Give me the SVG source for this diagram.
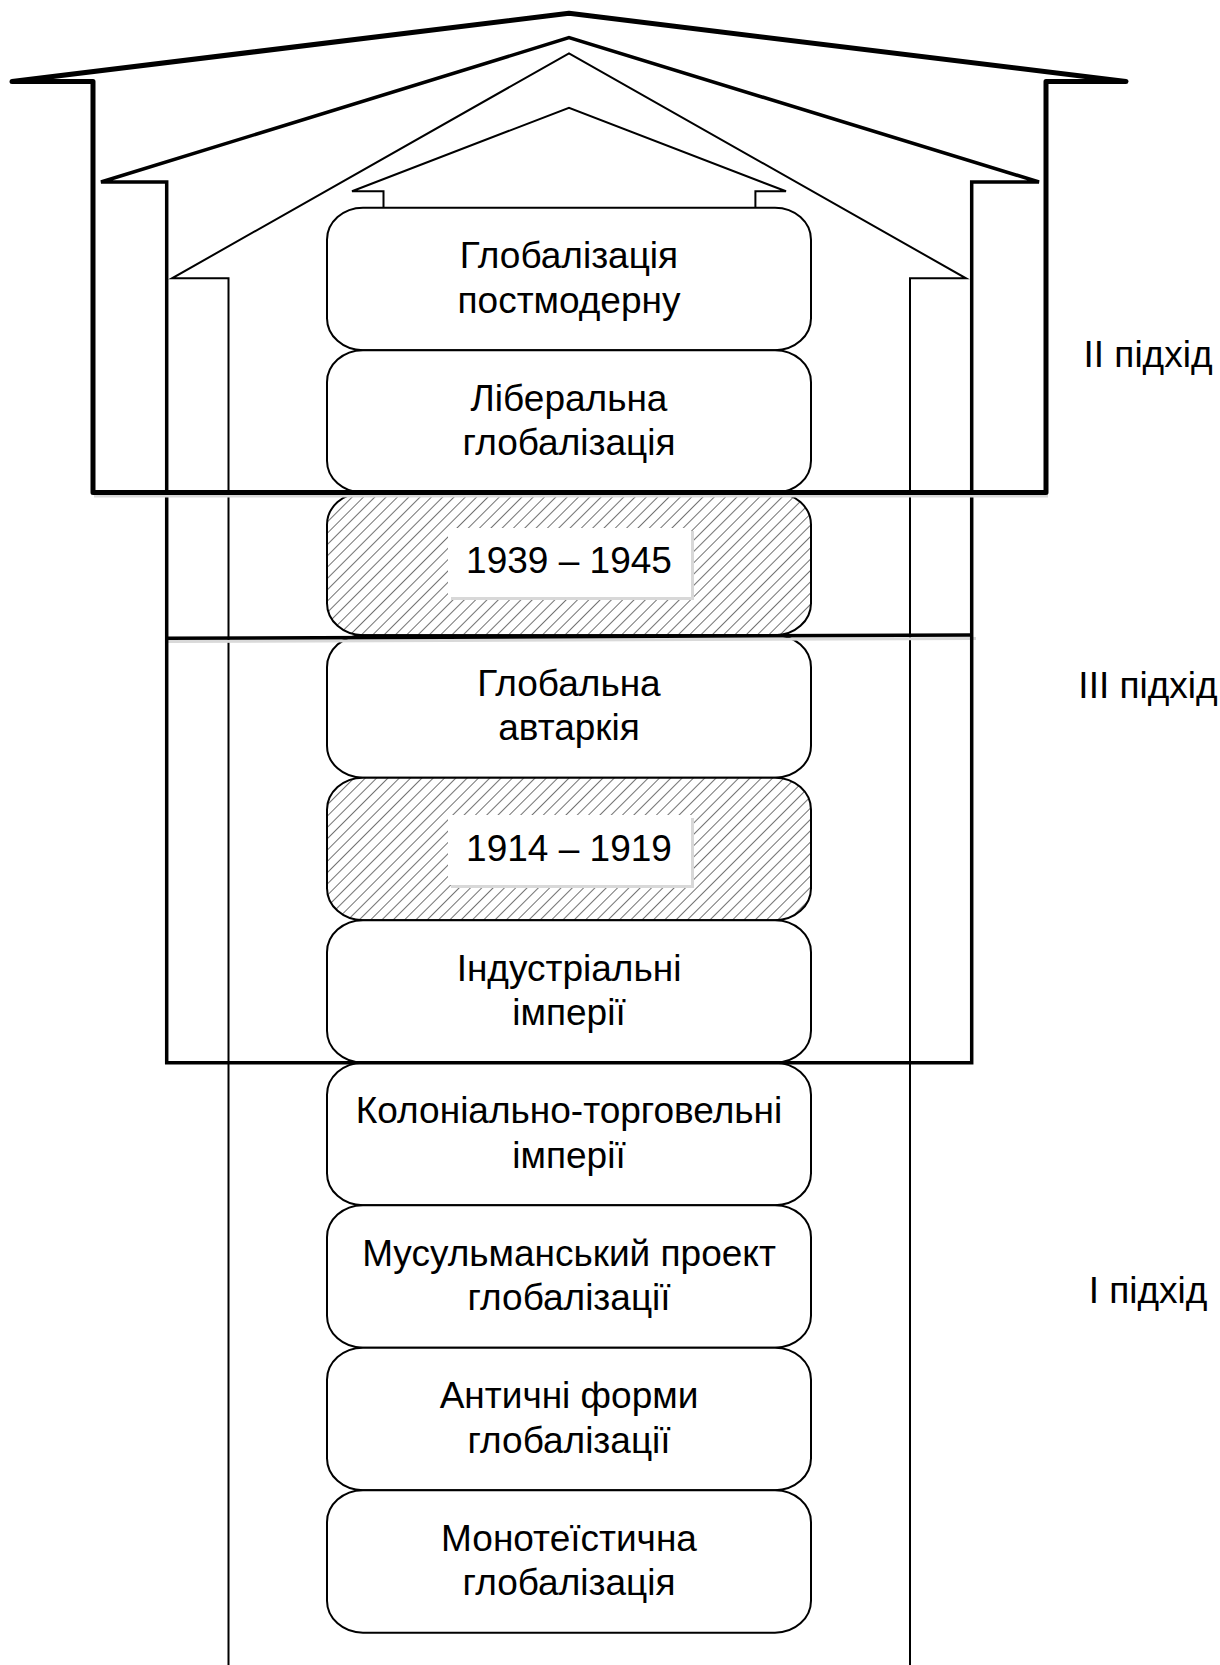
<svg xmlns="http://www.w3.org/2000/svg" width="1220" height="1665" viewBox="0 0 1220 1665">
<style>
.box{fill:#fff;stroke:#000;stroke-width:2}
.hbox{fill:url(#hatch);stroke:#000;stroke-width:2}
.t{font-family:"Liberation Sans",Arial,sans-serif;font-size:37px;fill:#000;text-anchor:middle}
.lbl{fill:#fff}
.sh{fill:#d8d8d8}
.f2{fill:none;stroke:#000;stroke-width:5;stroke-linejoin:round;stroke-linecap:round}
.f3{fill:none;stroke:#000;stroke-width:3.5;stroke-linejoin:miter}
.f1{fill:none;stroke:#000;stroke-width:2;stroke-linejoin:miter}
.shl{fill:none;stroke:#d9d9d9;stroke-width:3}
</style>
<defs>
<pattern id="hatch" patternUnits="userSpaceOnUse" width="8" height="8" patternTransform="rotate(45)">
<rect x="0" y="0" width="8" height="8" fill="#fff"/>
<line x1="0" y1="0" x2="0" y2="8" stroke="#444" stroke-width="1.5"/>
</pattern>
</defs>
<rect x="0" y="0" width="1220" height="1665" fill="#fff"/>

<g id="n1"><rect class="box" x="327" y="207.7" width="484" height="142.5" rx="36" ry="32"/>
<text class="t" x="569" y="268">Глобалізація</text><text class="t" x="569" y="312.7">постмодерну</text></g>
<g id="n2"><rect class="box" x="327" y="350.2" width="484" height="142.5" rx="36" ry="32"/>
<text class="t" x="569" y="410.5">Ліберальна</text><text class="t" x="569" y="455">глобалізація</text></g>
<g id="n3"><rect class="hbox" x="327" y="492.7" width="484" height="142.5" rx="36" ry="32"/>
<rect class="sh" x="451" y="531" width="243" height="69"/>
<rect class="lbl" x="448" y="528" width="243" height="69"/>
<text class="t" x="569" y="573">1939 – 1945</text></g>
<g id="n4"><rect class="box" x="327" y="635.2" width="484" height="142.5" rx="36" ry="32"/>
<text class="t" x="569" y="695.5">Глобальна</text><text class="t" x="569" y="740">автаркія</text></g>
<g id="n5"><rect class="hbox" x="327" y="777.7" width="484" height="142.5" rx="36" ry="32"/>
<rect class="sh" x="451" y="818" width="243" height="70"/>
<rect class="lbl" x="448" y="815" width="243" height="70"/>
<text class="t" x="569" y="860.7">1914 – 1919</text></g>
<g id="n6"><rect class="box" x="327" y="920.2" width="484" height="142.5" rx="36" ry="32"/>
<text class="t" x="569" y="980.5">Індустріальні</text><text class="t" x="569" y="1025">імперії</text></g>
<g id="n7"><rect class="box" x="327" y="1062.7" width="484" height="142.5" rx="36" ry="32"/>
<text class="t" x="569" y="1123">Колоніально-торговельні</text><text class="t" x="569" y="1167.5">імперії</text></g>
<g id="n8"><rect class="box" x="327" y="1205.2" width="484" height="142.5" rx="36" ry="32"/>
<text class="t" x="569" y="1265.5">Мусульманський проект</text><text class="t" x="569" y="1310">глобалізації</text></g>
<g id="n9"><rect class="box" x="327" y="1347.7" width="484" height="142.5" rx="36" ry="32"/>
<text class="t" x="569" y="1408">Античні форми</text><text class="t" x="569" y="1452.5">глобалізації</text></g>
<g id="n10"><rect class="box" x="327" y="1490.2" width="484" height="142.5" rx="36" ry="32"/>
<text class="t" x="569" y="1550.5">Монотеїстична</text><text class="t" x="569" y="1595">глобалізація</text></g>

<g id="connectors">
<path class="f1" d="M383.5,207.7 V191.3 H352 L569,107.7 L786,191.3 H755.4 V207.7"/>
<path class="f1" d="M228.5,1665 V278.3 H172 L569,53.3 L966,278.3 H910 V1665"/>
<line class="shl" x1="168" y1="641.5" x2="976" y2="638.5"/>
<path class="f3" d="M166.7,1062.7 V182 H101 L569,37.7 L1039,182 H971.7 V1062.7 Z"/>
<line class="f3" x1="166.7" y1="638.3" x2="971.7" y2="635"/>
<line class="shl" x1="94" y1="496" x2="1048" y2="496"/>
<path class="f2" d="M93,492.5 V81.5 H12 L569,13.3 L1126,81.5 H1046 V492.5 Z"/>
</g>

<g id="labels">
<text class="t" x="1148" y="366.7">II підхід</text>
<text class="t" x="1148" y="697.7">III підхід</text>
<text class="t" x="1148" y="1303.3">I підхід</text>
</g>
</svg>
